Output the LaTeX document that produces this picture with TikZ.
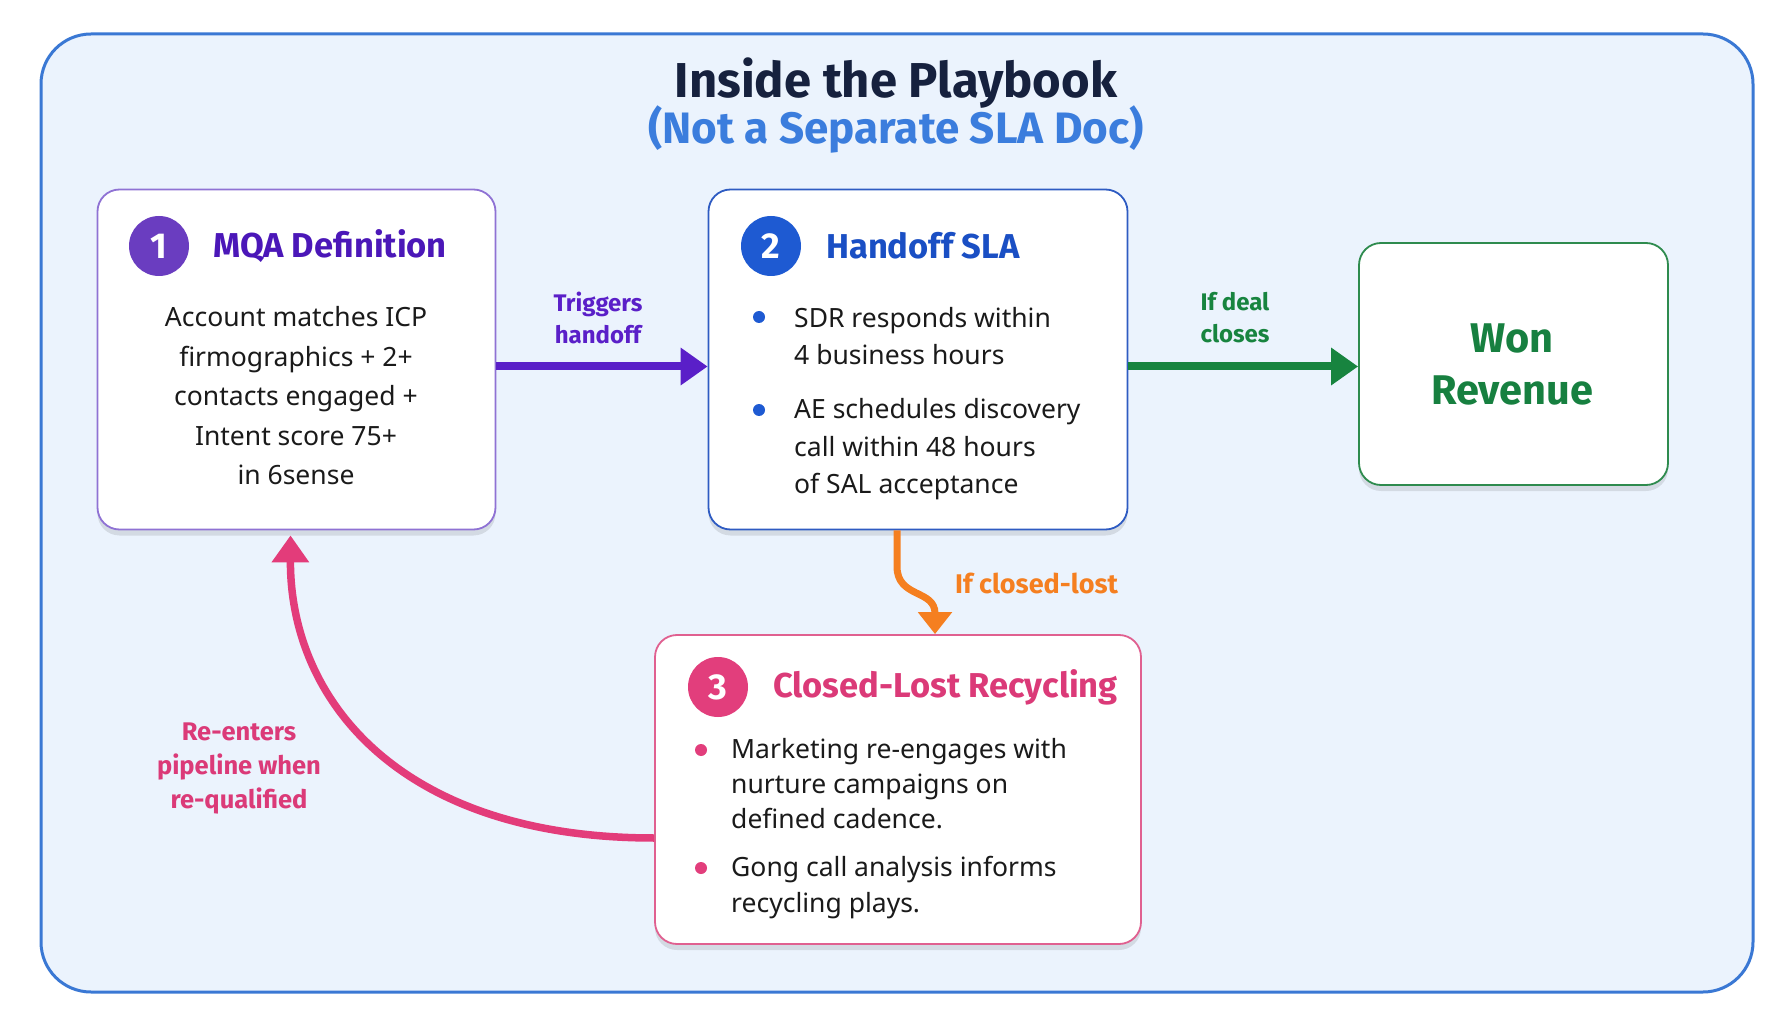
\documentclass[tikz,border=0pt]{standalone}
\usepackage{fontspec}
\setmainfont{Noto Sans}
\newfontfamily\hfont{Fira Sans}
\usetikzlibrary{arrows.meta,shadows}
\definecolor{frameblue}{HTML}{3A78D4}
\definecolor{panel}{HTML}{EBF3FD}
\definecolor{navy}{HTML}{16213E}
\definecolor{subblue}{HTML}{3B7DDD}
\definecolor{pcirc}{HTML}{6A3DC0}
\definecolor{ptext}{HTML}{4B17B8}
\definecolor{pborder}{HTML}{8F72D4}
\definecolor{parrow}{HTML}{5A1FC8}
\definecolor{bcirc}{HTML}{1E5AD2}
\definecolor{btext}{HTML}{1A4FC4}
\definecolor{bborder}{HTML}{2E5BC2}
\definecolor{gborder}{HTML}{2E8B4E}
\definecolor{gtext}{HTML}{178040}
\definecolor{garrow}{HTML}{17843F}
\definecolor{oarrow}{HTML}{F57F20}
\definecolor{parrowk}{HTML}{E33C7A}
\definecolor{kcirc}{HTML}{E23E7C}
\definecolor{ktext}{HTML}{DB3A78}
\definecolor{kborder}{HTML}{E06090}
\definecolor{bodytext}{HTML}{1A1A1A}
\begin{document}
\begin{tikzpicture}[x=1pt,y=-1pt,
  card/.style={rounded corners=22pt, fill=white, line width=1.8pt, inner sep=0pt,
    drop shadow={shadow xshift=0pt, shadow yshift=-6pt, opacity=0.10, fill=black}},
  numcirc/.style={circle, minimum size=60pt, inner sep=0pt, text=white,
    font=\hfont\bfseries\fontsize{36}{36}\selectfont},
  head/.style={anchor=west, inner sep=0pt, font=\hfont\bfseries\fontsize{34.5}{34.5}\selectfont},
  body/.style={inner sep=0pt, text=bodytext},
  bullet/.style={circle, minimum size=12pt, inner sep=0pt},
  lbl/.style={inner sep=0pt, align=center, font=\hfont\bfseries\fontsize{24}{32}\selectfont},
  conn/.style={line width=8pt}
]
\useasboundingbox (0,0) rectangle (1792,1024);
\fill[white] (0,0) rectangle (1792,1024);
\draw[frameblue, line width=3pt, fill=panel, rounded corners=50pt] (41,34) rectangle (1753,992);

% title
\node[inner sep=0pt, text=navy, font=\hfont\bfseries\fontsize{49}{49}\selectfont] (title) at (896,83) {Inside the Playbook};
\node[inner sep=0pt, text=subblue, font=\hfont\bfseries\fontsize{44}{44}\selectfont] (subtitle) at (896,129) {(Not a Separate SLA Doc)};

% box 1
\node[card, draw=pborder, minimum width=398pt, minimum height=340pt] (b1) at (296.5,359.5) {};
\node[numcirc, fill=pcirc] (c1) at (159,246) {1};
\node[head, text=ptext] (h1) at (213,246) {MQA Definition};
\node[body, align=center, font=\fontsize{26.5}{39.5}\selectfont] (t1) at (296,396)
  {Account matches ICP\\firmographics + 2+\\contacts engaged +\\Intent score 75+\\in 6sense};

% box 2
\node[card, draw=bborder, minimum width=419pt, minimum height=340pt] (b2) at (918,359.5) {};
\node[numcirc, fill=bcirc] (c2) at (771,246) {2};
\node[head, text=btext] (h2) at (826,246) {Handoff SLA};
\node[bullet, fill=bcirc] (d2a) at (759,317) {};
\node[body, anchor=west, align=left, font=\fontsize{26.5}{37.5}\selectfont] (t2a) at (794,336)
  {SDR responds within\\4 business hours};
\node[bullet, fill=bcirc] (d2b) at (759,410) {};
\node[body, anchor=west, align=left, font=\fontsize{26.5}{37.5}\selectfont] (t2b) at (794,449.5)
  {AE schedules discovery\\call within 48 hours\\of SAL acceptance};

% box 3
\node[card, draw=kborder, minimum width=486pt, minimum height=309pt] (b3) at (898,789.5) {};
\node[numcirc, fill=kcirc] (c3) at (718,687) {3};
\node[head, text=ktext] (h3) at (773,687) {Closed-Lost Recycling};
\node[bullet, fill=kcirc] (d3a) at (701,750) {};
\node[body, anchor=west, align=left, font=\fontsize{26.5}{35}\selectfont] (t3a) at (731,784)
  {Marketing re-engages with\\nurture campaigns on\\defined cadence.};
\node[bullet, fill=kcirc] (d3b) at (701,868) {};
\node[body, anchor=west, align=left, font=\fontsize{26.5}{36}\selectfont] (t3b) at (731,888)
  {Gong call analysis informs\\recycling plays.};

% box 4
\node[card, draw=gborder, minimum width=309pt, minimum height=242pt] (b4) at (1513.5,364) {};
\node[inner sep=0pt, align=center, text=gtext, font=\hfont\bfseries\fontsize{41.5}{52}\selectfont] (t4) at (1512,364) {Won\\Revenue};

% connectors
\draw[conn, parrow, -{Triangle[length=27pt,width=36pt]}] ([yshift=-7pt]b1.east) -- ([yshift=-7pt]b2.west);
\node[lbl, text=parrow] (l1) at (598,318) {Triggers\\handoff};

\draw[conn, garrow, -{Triangle[length=27pt,width=36pt]}] ([yshift=-7pt]b2.east) -- ([yshift=-7pt]b2.east -| b4.west);
\node[lbl, text=garrow] (l2) at (1235,318) {If deal\\closes};

\coordinate (o1) at ([xshift=-21pt]b2.south);
\coordinate (o2) at ([xshift=37pt]b3.north);
\draw[line width=7pt, oarrow, -{Triangle[length=22pt,width=33pt]}] (o1) -- ++(0,36) .. controls +(0,32) and +(0,-45) .. (o2);
\node[lbl, anchor=west, text=oarrow, font=\hfont\bfseries\fontsize{27}{32}\selectfont] (l3) at (955,583) {If closed-lost};

\coordinate (p1) at ([yshift=-48.5pt]b3.west);
\coordinate (p2) at ([xshift=-6pt,yshift=-5pt]b1.south);
\draw[line width=7.5pt, parrowk, -{Triangle[length=27pt,width=36pt]}] (p1) .. controls (400,838) and (290,700) .. (p2);
\node[lbl, text=ktext, font=\hfont\bfseries\fontsize{25.5}{34}\selectfont] (l4) at (239,768) {Re-enters\\pipeline when\\re-qualified};
\end{tikzpicture}
\end{document}
